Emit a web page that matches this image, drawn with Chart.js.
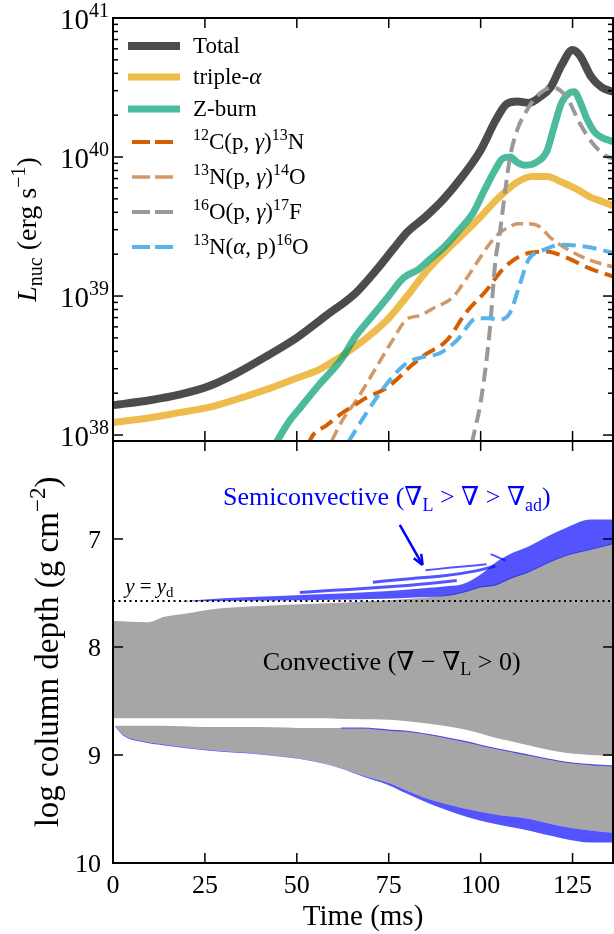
<!DOCTYPE html>
<html>
<head>
<meta charset="utf-8">
<script src="https://cdn.jsdelivr.net/npm/chart.js@4.4.1/dist/chart.umd.min.js"></script>
<style>
  html, body { margin: 0; padding: 0; background: #fff; }
  #wrap { position: relative; width: 614px; height: 934px; }
  canvas { position: absolute; left: 0; }
  #lum { top: 0; }
  #depth { top: 436px; }
</style>
</head>
<body>
<div id="wrap">
  <canvas id="lum" width="614" height="446"></canvas>
  <canvas id="depth" width="614" height="498"></canvas>
</div>
<script>
const FONT = '"Liberation Serif", "DejaVu Serif", serif'

// axis ticks
const timeTicks = [0, 25, 50, 75, 100, 125]
const lumDecades = [1e38, 1e39, 1e40, 1e41]
const depthTicks = [7, 8, 9, 10]

// nuclear luminosity (erg/s) vs time (ms)
const totalT = [0, 10, 18, 26, 34, 42, 50, 58, 66, 72, 76, 80, 85, 90, 95, 100, 104, 107, 110, 113, 116, 119, 122, 125, 127, 130, 133, 136]
const totalL = [1.64e38, 1.78e38, 1.95e38, 2.24e38, 2.82e38, 3.72e38, 5.01e38, 7.24e38, 1.05e39, 1.58e39, 2.14e39, 2.88e39, 3.72e39, 5.01e39, 7.24e39, 1.12e40, 1.82e40, 2.40e40, 2.51e40, 2.45e40, 2.69e40, 3.16e40, 4.57e40, 5.89e40, 5.37e40, 3.80e40, 3.16e40, 2.95e40]

const tripleT = [0, 10, 18, 26, 34, 42, 50, 56, 60, 64, 70, 75, 80, 85, 90, 95, 100, 105, 110, 114, 118, 122, 126, 130, 133, 136]
const tripleL = [1.23e38, 1.33e38, 1.45e38, 1.58e38, 1.82e38, 2.14e38, 2.57e38, 2.95e38, 3.39e38, 3.98e38, 5.25e38, 6.92e38, 1.00e39, 1.48e39, 2.04e39, 2.75e39, 3.72e39, 5.13e39, 6.61e39, 7.24e39, 7.24e39, 6.61e39, 5.89e39, 5.13e39, 4.79e39, 4.47e39]

const zburnT = [44, 48, 51, 56, 62, 66, 70, 75, 79, 83, 86, 90, 94, 98, 101, 104, 106, 108, 110, 112, 115, 118, 120, 122, 124, 125.5, 127, 129, 131, 133, 136]
const zburnL = [8.51e37, 1.26e38, 1.58e38, 2.29e38, 3.47e38, 5.13e38, 6.92e38, 1.00e39, 1.35e39, 1.55e39, 1.82e39, 2.24e39, 2.95e39, 3.98e39, 5.75e39, 8.13e39, 9.77e39, 1.00e40, 9.12e39, 8.71e39, 9.12e39, 1.10e40, 1.66e40, 2.45e40, 2.88e40, 2.95e40, 2.51e40, 1.86e40, 1.51e40, 1.38e40, 1.29e40]

const c12T = [53, 54.4, 58, 62.5, 66, 69, 74.5, 78, 80.7, 85, 90.8, 96, 101.6, 105, 108, 113, 118, 121, 124, 129.6, 136]
const c12L = [8.51e37, 1.00e38, 1.17e38, 1.45e38, 1.66e38, 1.86e38, 2.19e38, 2.63e38, 3.09e38, 3.80e38, 4.79e38, 7.59e38, 1.10e39, 1.45e39, 1.74e39, 2.04e39, 2.09e39, 2.00e39, 1.86e39, 1.58e39, 1.38e39]

const n13pT = [59.5, 62.5, 66.2, 70.8, 76, 79.8, 83.4, 87, 92.4, 96, 99, 102, 105, 108, 110, 113, 116, 119, 124, 129.6, 136]
const n13pL = [9.12e37, 1.29e38, 1.78e38, 2.82e38, 4.79e38, 6.76e38, 7.24e38, 8.13e38, 9.77e38, 1.32e39, 1.74e39, 2.29e39, 2.82e39, 3.16e39, 3.31e39, 3.31e39, 3.16e39, 2.63e39, 2.14e39, 1.82e39, 1.62e39]

const o16T = [97.6, 100.2, 102.5, 104, 105.2, 106.5, 108, 110, 112, 115, 119.6, 123.4, 127, 130.4, 134, 136]
const o16L = [8.71e37, 1.86e38, 5.75e38, 1.78e39, 2.82e39, 5.25e39, 1.00e40, 1.58e40, 2.04e40, 2.69e40, 3.16e40, 2.69e40, 1.74e40, 1.26e40, 1.02e40, 9.77e39]

const n13aT = [64, 69, 74.5, 80, 84.3, 89, 93.5, 99, 102.4, 105, 108, 110.6, 113, 117, 122, 127, 131.5, 136]
const n13aL = [8.91e37, 1.45e38, 2.34e38, 3.31e38, 3.63e38, 3.89e38, 4.79e38, 6.92e38, 6.92e38, 6.76e38, 7.59e38, 1.20e39, 1.82e39, 2.14e39, 2.34e39, 2.29e39, 2.19e39, 2.04e39]

// log column depth (g/cm^2) of the convective and semiconvective zones
const convT = [0, 9.5, 14, 20, 27, 40, 55, 68, 78, 86, 90, 95, 100, 104, 108, 113, 118, 123, 130, 136]
const convTop = [7.76, 7.77, 7.72, 7.69, 7.65, 7.62, 7.60, 7.58, 7.56, 7.54, 7.52, 7.49, 7.44, 7.42, 7.36, 7.30, 7.22, 7.15, 7.09, 7.04]
const convBottom = [8.66, 8.66, 8.66, 8.66, 8.66, 8.66, 8.66, 8.67, 8.68, 8.71, 8.73, 8.76, 8.80, 8.84, 8.87, 8.91, 8.95, 8.98, 9.00, 9.01]

const lowT = [0.5, 2.7, 8, 13.6, 25, 40, 54, 62, 68, 75, 80, 86, 95, 104, 113, 122, 130, 136]
const lowTop = [8.73, 8.73, 8.73, 8.73, 8.74, 8.74, 8.75, 8.75, 8.75, 8.77, 8.78, 8.81, 8.87, 8.94, 9.00, 9.06, 9.09, 9.10]
const lowBottom = [8.73, 8.81, 8.87, 8.90, 8.95, 8.99, 9.05, 9.12, 9.19, 9.26, 9.33, 9.41, 9.49, 9.55, 9.59, 9.66, 9.70, 9.72]
const semiLowBottom = [8.735, 8.82, 8.88, 8.91, 8.955, 8.995, 9.055, 9.125, 9.20, 9.28, 9.36, 9.45, 9.56, 9.64, 9.70, 9.77, 9.81, 9.81]

const semiT = [18, 30, 45, 60, 70, 78, 86, 90, 95, 100, 104, 108, 113, 118, 123, 130, 136]
const semiBottom = [7.578, 7.575, 7.57, 7.562, 7.555, 7.548, 7.538, 7.53, 7.50, 7.45, 7.43, 7.37, 7.31, 7.23, 7.16, 7.10, 7.05]
const semiTop = [7.578, 7.548, 7.528, 7.508, 7.492, 7.475, 7.452, 7.44, 7.42, 7.33, 7.22, 7.14, 7.07, 6.98, 6.90, 6.82, 6.82]

const streakCT = [50.8, 60, 70, 80, 88, 93.5]
const streakC = [7.495, 7.475, 7.455, 7.43, 7.405, 7.385]
const streakBT = [70.7, 80, 90, 98, 104]
const streakB = [7.40, 7.37, 7.34, 7.30, 7.25]
const streakAT = [85, 92, 101.6]
const streakA = [7.29, 7.265, 7.235]
const streakVT = [102.7, 104.8, 106.8]
const streakV = [7.14, 7.17, 7.20]

const ydT = [0, 136]
const yd = [7.574, 7.574]

const GRAY = '#a6a6a6'
const BLUE = 'rgba(0,0,255,0.67)'

function pts(ts, vs) { return ts.map((t, i) => ({x: t, y: vs[i]})) }

function line(ctx, x1, y1, x2, y2) {
  ctx.beginPath(); ctx.moveTo(x1, y1); ctx.lineTo(x2, y2); ctx.stroke()
}

function fontOf(st, size) {
  const small = st === 'sup' || st === 'sub'
  return (st === 'i' ? 'italic ' : '') + (small ? Math.round(size * 0.7) : size) + 'px ' + FONT
}

// text made of pieces [text, style]; style is '', 'i', 'sup' or 'sub'
function drawRich(ctx, pieces, x, y, size, align) {
  let w = 0
  for (const [txt, st] of pieces) { ctx.font = fontOf(st, size); w += ctx.measureText(txt).width }
  let cx = align === 'center' ? x - w / 2 : align === 'right' ? x - w : x
  ctx.textAlign = 'left'
  ctx.textBaseline = 'alphabetic'
  for (const [txt, st] of pieces) {
    ctx.font = fontOf(st, size)
    const dy = st === 'sup' ? -size * 0.4 : st === 'sub' ? size * 0.2 : 0
    ctx.fillText(txt, cx, y + dy)
    cx += ctx.measureText(txt).width
  }
}

function drawRotated(ctx, pieces, x, y, size) {
  ctx.save()
  ctx.translate(x, y)
  ctx.rotate(-Math.PI / 2)
  drawRich(ctx, pieces, 0, 0, size, 'center')
  ctx.restore()
}

const lumSeries = [
  {label: [['Total', '']], t: totalT, v: totalL, color: 'rgba(0,0,0,0.7)', width: 8},
  {label: [['triple-', ''], ['α', 'i']], t: tripleT, v: tripleL, color: 'rgba(230,159,0,0.7)', width: 7},
  {label: [['Z-burn', '']], t: zburnT, v: zburnL, color: 'rgba(0,158,115,0.7)', width: 7},
  {label: [['12', 'sup'], ['C(p, ', ''], ['γ', 'i'], [')', ''], ['13', 'sup'], ['N', '']], t: c12T, v: c12L, color: '#d55e00', width: 4, dash: [14, 7]},
  {label: [['13', 'sup'], ['N(p, ', ''], ['γ', 'i'], [')', ''], ['14', 'sup'], ['O', '']], t: n13pT, v: n13pL, color: 'rgba(190,110,40,0.7)', width: 3.5, dash: [12, 6]},
  {label: [['16', 'sup'], ['O(p, ', ''], ['γ', 'i'], [')', ''], ['17', 'sup'], ['F', '']], t: o16T, v: o16L, color: '#999999', width: 4, dash: [14, 7]},
  {label: [['13', 'sup'], ['N(', ''], ['α', 'i'], [', p)', ''], ['16', 'sup'], ['O', '']], t: n13aT, v: n13aL, color: '#56b4e9', width: 4, dash: [14, 7]}
]

const legendRows = [46, 77, 109, 142, 177, 212, 247]

const lumFrame = {
  id: 'lumFrame',
  afterDraw(chart) {
    const {ctx, chartArea: a, scales: {x, y}} = chart
    ctx.save()
    ctx.strokeStyle = '#000'
    ctx.fillStyle = '#000'
    ctx.lineWidth = 1.5
    for (const t of timeTicks) {
      const px = x.getPixelForValue(t)
      line(ctx, px, a.bottom, px, a.bottom - 10)
      line(ctx, px, a.top, px, a.top + 10)
    }
    for (const d of lumDecades) {
      const py = y.getPixelForValue(d)
      line(ctx, a.left, py, a.left + 10, py)
      line(ctx, a.right, py, a.right - 10, py)
      for (let k = 2; k <= 9; k++) {
        if (d * k > y.max) break
        const pm = y.getPixelForValue(d * k)
        line(ctx, a.left, pm, a.left + 5, pm)
        line(ctx, a.right, pm, a.right - 5, pm)
      }
      drawRich(ctx, [['10', ''], [String(Math.round(Math.log10(d))), 'sup']], a.left - 4, py + 11, 29, 'right')
    }
    ctx.lineWidth = 2
    ctx.strokeRect(a.left, a.top, a.right - a.left, a.bottom - a.top)

    drawRotated(ctx, [['L', 'i'], ['nuc', 'sub'], [' (erg s', ''], ['−1', 'sup'], [')', '']], 36, (a.top + a.bottom) / 2, 28)

    // legend
    chart.data.datasets.forEach((ds, i) => {
      const yy = legendRows[i]
      ctx.strokeStyle = ds.borderColor
      ctx.lineWidth = ds.borderWidth
      ctx.lineCap = 'butt'
      if (ds.borderDash.length) {
        ctx.setLineDash([18, 5])
        line(ctx, 132, yy, 175, yy)
      } else {
        ctx.setLineDash([])
        line(ctx, 128, yy, 180, yy)
      }
      ctx.setLineDash([])
      ctx.fillStyle = '#000'
      drawRich(ctx, lumSeries[i].label, 193, yy + 7, 23, 'left')
    })
    ctx.restore()
  }
}

new Chart(document.getElementById('lum'), {
  type: 'line',
  data: {
    datasets: lumSeries.map((s, i) => ({
      label: s.label.map(p => p[0]).join(''),
      data: pts(s.t, s.v),
      borderColor: s.color,
      borderWidth: s.width,
      borderDash: s.dash || [],
      borderCapStyle: 'butt',
      borderJoinStyle: 'round',
      cubicInterpolationMode: 'monotone',
      pointRadius: 0,
      fill: false,
      clip: 0,
      order: lumSeries.length - i
    }))
  },
  options: {
    responsive: false,
    animation: false,
    devicePixelRatio: 1,
    layout: {padding: {left: 113, right: 1, top: 18, bottom: 5}},
    scales: {
      x: {type: 'linear', min: 0, max: 136, display: false},
      y: {type: 'logarithmic', min: 9.06e37, max: 1e41, display: false}
    },
    plugins: {legend: {display: false}, tooltip: {enabled: false}}
  },
  plugins: [lumFrame]
})

// ---- column depth panel ----
function band(ts, vs, fill, color) {
  return {
    data: pts(ts, vs), fill: fill, backgroundColor: color || 'transparent',
    borderColor: 'rgba(0,0,0,0)', borderWidth: 0, pointRadius: 0,
    cubicInterpolationMode: 'monotone', clip: 0
  }
}
function streak(ts, vs, w) {
  return {
    data: pts(ts, vs), fill: false, borderColor: BLUE, borderWidth: w,
    pointRadius: 0, cubicInterpolationMode: 'monotone', clip: 0
  }
}

const depthSets = [
  band(convT, convBottom, false),
  band(convT, convTop, '-1', GRAY),
  band(lowT, lowTop, false),
  band(lowT, lowBottom, '-1', GRAY),
  band(lowT, semiLowBottom, '-1', BLUE),
  {
    data: pts(lowT, lowTop), fill: false, borderWidth: 1.2, pointRadius: 0,
    cubicInterpolationMode: 'monotone', clip: 0,
    borderColor: BLUE,
    segment: {borderColor: c => c.p0.parsed.x >= 62 ? BLUE : 'rgba(0,0,0,0)'}
  },
  band(semiT, semiBottom, false),
  band(semiT, semiTop, '-1', BLUE),
  streak(streakCT, streakC, 3),
  streak(streakBT, streakB, 3),
  streak(streakAT, streakA, 2),
  streak(streakVT, streakV, 2),
  {
    data: pts(ydT, yd), fill: false, borderColor: '#000', borderWidth: 2,
    borderDash: [2, 3.5], pointRadius: 0, clip: 0
  }
]
depthSets.forEach((ds, i) => { ds.order = depthSets.length - i })

const depthFrame = {
  id: 'depthFrame',
  afterDraw(chart) {
    const {ctx, chartArea: a, scales: {x, y}} = chart
    ctx.save()
    ctx.strokeStyle = '#000'
    ctx.fillStyle = '#000'
    ctx.lineWidth = 1.5
    for (const t of timeTicks) {
      const px = x.getPixelForValue(t)
      line(ctx, px, a.bottom, px, a.bottom - 10)
      line(ctx, px, a.top, px, a.top + 10)
      drawRich(ctx, [[String(t), '']], px, a.bottom + 30, 26, 'center')
    }
    for (const d of depthTicks) {
      const py = y.getPixelForValue(d)
      line(ctx, a.left, py, a.left + 10, py)
      line(ctx, a.right, py, a.right - 10, py)
      drawRich(ctx, [[String(d), '']], a.left - 12, py + 9, 26, 'right')
    }
    ctx.lineWidth = 2
    ctx.strokeRect(a.left, a.top, a.right - a.left, a.bottom - a.top)

    drawRich(ctx, [['Time (ms)', '']], (a.left + a.right) / 2, a.bottom + 62, 29, 'center')
    drawRotated(ctx, [['log column depth (g cm', ''], ['−2', 'sup'], [')', '']], 58, (a.top + a.bottom) / 2, 33)

    // zone labels
    drawRich(ctx, [['Convective (∇ − ∇', ''], ['L', 'sub'], [' > 0)', '']],
      x.getPixelForValue(75.8), y.getPixelForValue(8.21), 26, 'center')
    drawRich(ctx, [['y', 'i'], [' = ', ''], ['y', 'i'], ['d', 'sub']],
      x.getPixelForValue(3.3), y.getPixelForValue(7.50), 21, 'left')
    ctx.fillStyle = '#0000ff'
    drawRich(ctx, [['Semiconvective (∇', ''], ['L', 'sub'], [' > ∇ > ∇', ''], ['ad', 'sub'], [')', '']],
      x.getPixelForValue(74.5), y.getPixelForValue(6.69), 26, 'center')

    // arrow pointing at the semiconvective streaks
    const x0 = x.getPixelForValue(78), y0 = y.getPixelForValue(6.87)
    const x1 = x.getPixelForValue(84.2), y1 = y.getPixelForValue(7.24)
    const ang = Math.atan2(y1 - y0, x1 - x0)
    ctx.strokeStyle = '#0000ff'
    ctx.lineWidth = 2.5
    line(ctx, x0, y0, x1, y1)
    for (const s of [-1, 1]) {
      line(ctx, x1, y1, x1 - 11 * Math.cos(ang + s * 0.4), y1 - 11 * Math.sin(ang + s * 0.4))
    }
    ctx.restore()
  }
}

new Chart(document.getElementById('depth'), {
  type: 'line',
  data: {datasets: depthSets},
  options: {
    responsive: false,
    animation: false,
    devicePixelRatio: 1,
    layout: {padding: {left: 113, right: 1, top: 5, bottom: 71}},
    scales: {
      x: {type: 'linear', min: 0, max: 136, display: false},
      y: {type: 'linear', min: 6.093, max: 10, reverse: true, display: false}
    },
    plugins: {legend: {display: false}, tooltip: {enabled: false}}
  },
  plugins: [depthFrame]
})
</script>
</body>
</html>
